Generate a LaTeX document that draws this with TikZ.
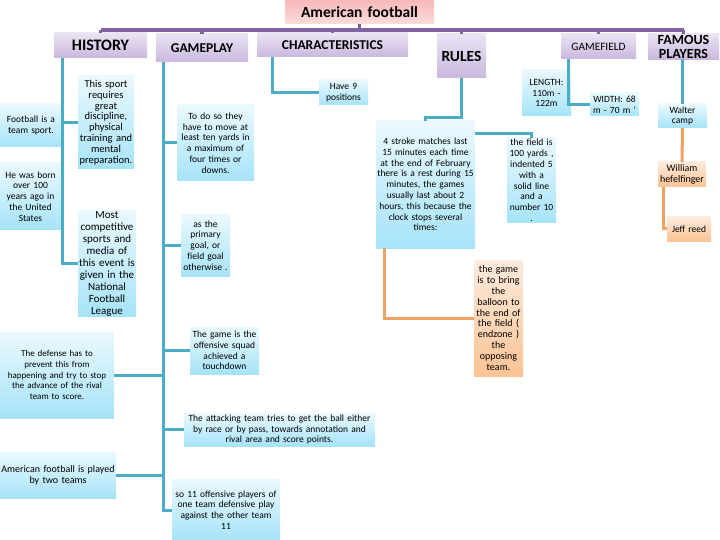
\documentclass[tikz,border=0pt]{standalone}
\usepackage{fontspec}
\setmainfont{Carlito}
\definecolor{buspurple}{HTML}{8064A2}
\definecolor{linkblue}{HTML}{4BACC6}
\definecolor{linkorange}{HTML}{EDA262}
\definecolor{pinktop}{HTML}{F8B9B9}
\definecolor{pinkbot}{HTML}{FCDCDC}
\definecolor{lilactop}{HTML}{EBE3F3}
\definecolor{lilacbot}{HTML}{C9B8DE}
\definecolor{skytop}{HTML}{EAF9FE}
\definecolor{skybot}{HTML}{A6E3F8}
\definecolor{peachtop}{HTML}{FDEBDD}
\definecolor{peachbot}{HTML}{FBC394}

\begin{document}
\begin{tikzpicture}[x=1pt, y=-1pt,
  box/.style 2 args={minimum width=#1pt, text width=#1pt, minimum height=#2pt,
    inner xsep=0pt, inner ysep=1pt, align=center},
  rootbox/.style={top color=pinktop, bottom color=pinkbot,
    font=\bfseries\fontsize{15.5}{17}\selectfont},
  catbox/.style={top color=lilactop, bottom color=lilacbot},
  leaf/.style={top color=skytop, bottom color=skybot,
    font=\fontsize{9.5}{10.8}\selectfont},
  oleaf/.style={top color=peachtop, bottom color=peachbot,
    font=\fontsize{9.5}{10.8}\selectfont},
  bus/.style={draw=buspurple, line width=3.5pt},
  blink/.style={draw=linkblue, line width=3pt},
  olink/.style={draw=linkorange, line width=3pt}]
\useasboundingbox (0,0) rectangle (720,540);

% top and categories
\node[rootbox, box={149}{24}] (root) at (359.5,12) {American football};
\node[catbox, box={93}{25}, font=\bfseries\fontsize{16}{18}\selectfont] (history) at (100.5,45.5) {HISTORY};
\node[catbox, box={92}{28}, font=\bfseries\fontsize{13.5}{15}\selectfont] (gameplay) at (202,48) {GAMEPLAY};
\node[catbox, box={151}{24}, font=\bfseries\fontsize{13.5}{15}\selectfont] (charac) at (332.5,45) {CHARACTERISTICS};
\node[catbox, box={49}{44}, font=\bfseries\fontsize{15.5}{17}\selectfont] (rules) at (461.5,56) {RULES};
\node[catbox, box={75}{25}, font=\fontsize{11.3}{13}\selectfont] (gamefield) at (598.5,46.5) {GAMEFIELD};
\node[catbox, box={71}{25}, font=\bfseries\fontsize{14}{14}\selectfont] (famous) at (683.5,46.5) {FAMOUS\\PLAYERS};

% history
\node[leaf, box={62}{43}] (teamsport) at (31,125.5) {Football is a\\team sport.};
\node[leaf, box={56}{93}, font=\fontsize{10.5}{10.8}\selectfont] (sportreq) at (106,122.5) {This sport\\requires\\great\\discipline,\\physical\\training and\\mental\\preparation.};
\node[leaf, box={61}{67}] (born) at (30.5,196.5) {He was born\\over 100\\years ago in\\the United\\States};
\node[leaf, box={58}{105}, font=\fontsize{11}{12}\selectfont] (mostcomp) at (107,263.5) {Most\\competitive\\sports and\\media of\\this event is\\given in the\\National\\Football\\League};

% gameplay
\node[leaf, box={77}{76}] (todoso) at (215.5,143) {To do so they\\have to move at\\least ten yards in\\a maximum of\\four times or\\downs.};
\node[leaf, box={49}{61}] (primary) at (205.5,245.5) {as the\\primary\\goal, or\\field goal\\otherwise .};
\node[leaf, box={69}{47}] (touchdown) at (224.5,350.5) {The game is the\\offensive squad\\achieved a\\touchdown};
\node[leaf, box={114}{86}, font=\fontsize{9}{10.8}\selectfont] (defense) at (57,375) {The defense has to\\prevent this from\\happening and try to stop\\the advance of the rival\\team to score.};
\node[leaf, box={191}{33}] (attacking) at (279.5,429.5) {The attacking team tries to get the ball either\\by race or by pass, towards annotation and\\rival area and score points.};
\node[leaf, box={116}{46}, font=\fontsize{10}{10.8}\selectfont] (twoteams) at (58,475) {American football is played\\by two teams};
\node[leaf, box={108}{62}] (eleven) at (226,510) {so 11 offensive players of\\one team defensive play\\against the other team\\11};

% characteristics and rules
\node[leaf, box={49}{25}] (positions) at (343.5,92.5) {Have 9\\positions};
\node[leaf, box={99}{127}] (stroke) at (425.5,184.5) {4 stroke matches last\\15 minutes each time\\at the end of February\\there is a rest during 15\\minutes, the games\\usually last about 2\\hours, this because the\\clock stops several\\times:};
\node[leaf, box={49}{85}] (field) at (531.5,180.5) {the field is\\100 yards ,\\indented 5\\with a\\solid line\\and a\\number 10\\.};
\node[oleaf, box={49}{116}, font=\fontsize{10}{10.8}\selectfont] (bring) at (498.5,318) {the game\\is to bring\\the\\balloon to\\the end of\\the field (\\endzone )\\the\\opposing\\team.};

% gamefield and players
\node[leaf, box={49}{46}] (length) at (546.5,93) {LENGTH:\\110m -\\122m};
\node[leaf, box={49}{23}] (width) at (614.5,104.5) {WIDTH: 68\\m - 70 m '};
\node[leaf, box={49}{24}] (walter) at (682.5,116) {Walter\\camp};
\node[oleaf, box={48}{25}, font=\fontsize{10}{10.8}\selectfont] (william) at (682,174.5) {William\\hefelfinger};
\node[oleaf, box={44}{24}] (jeff) at (689,229) {Jeff reed};

% purple bus
\coordinate (busy) at (0,30);
\path[bus] (history.north |- busy) -- (famous.north |- busy);
\path[bus] (root.south) -- (root.south |- busy);
\foreach \n in {history,gameplay,charac,rules,gamefield,famous}
  \path[bus] (\n.north) -- (\n.north |- busy);

% history links
\path[blink] ([xshift=9pt]history.south west) |- (mostcomp.west);
\path[blink] (sportreq.west -| teamsport.east) -- (sportreq.west);
\path[blink] (born.east) -- ++(2,0);

% gameplay links
\coordinate (gpx) at (164,0);
\path[blink] ([xshift=8pt]gameplay.south west) |- (eleven.west);
\foreach \n in {todoso,primary,touchdown,attacking}
  \path[blink] (\n.west -| gpx) -- (\n.west);
\path[blink] (defense.east) -- (defense.east -| gpx);
\path[blink] (twoteams.east) -- (twoteams.east -| gpx);

% characteristics and rules links
\path[blink] ([xshift=16pt]charac.south west) |- (positions.west);
\path[blink] (rules.south) -- ++(0,39) -| (stroke.north);
\path[blink] ([yshift=-13pt]stroke.north east) -| (field.north);
\path[olink] ([xshift=9pt]stroke.south west) |- (bring.west);

% gamefield and players links
\path[blink] ([xshift=8pt]gamefield.south west) |- (width.west);
\path[blink] (walter.north |- famous.south) -- (walter.north);
\path[olink] (walter.south) -- (william.north);
\path[olink] ([xshift=6pt]william.south west) |- (jeff.west);
\end{tikzpicture}
\end{document}
